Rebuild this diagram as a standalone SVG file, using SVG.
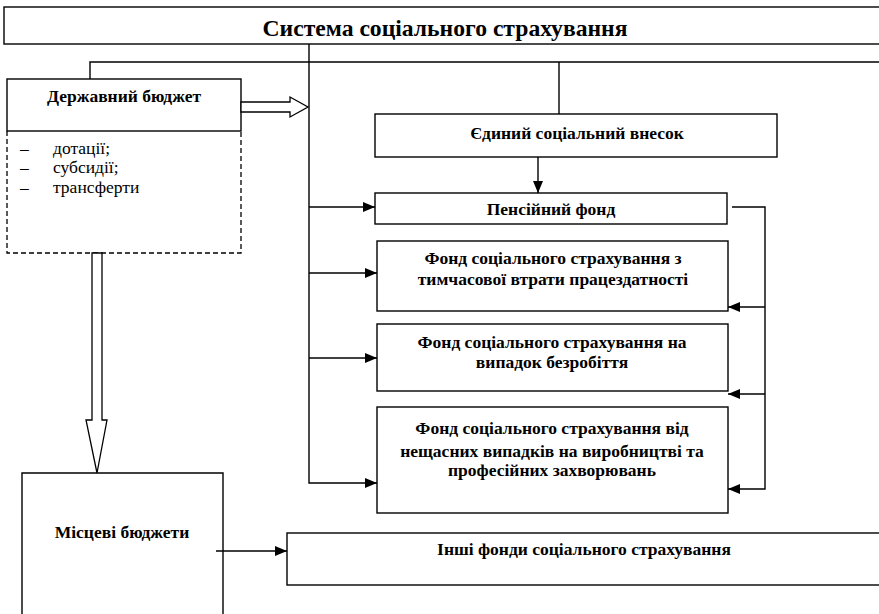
<svg xmlns="http://www.w3.org/2000/svg" width="879" height="614" viewBox="0 0 879 614">
<style>
.box{fill:#fff;stroke:#000;stroke-width:1.4}
.dash{fill:none;stroke:#000;stroke-width:1.3;stroke-dasharray:5,3}
.ln{fill:none;stroke:#000;stroke-width:1.4}
.hollow{fill:#fff;stroke:#000;stroke-width:1.3}
.t{font-family:"Liberation Serif","Times New Roman",serif;font-weight:bold;font-size:17.5px;text-anchor:middle;fill:#000}
.n{font-family:"Liberation Serif","Times New Roman",serif;font-size:17.5px;fill:#000}
.title{font-family:"Liberation Serif","Times New Roman",serif;font-weight:bold;font-size:23px;text-anchor:middle;fill:#000}
</style>
<defs>
<marker id="ah" markerUnits="userSpaceOnUse" markerWidth="13" markerHeight="10" refX="12" refY="5" orient="auto">
<path d="M0,0 L12,5 L0,10 Z" fill="#000"/>
</marker>
</defs>
<g id="title">
<rect class="box" x="4" y="7" width="880" height="37"/>
<text class="title" x="445" y="36" textLength="365" lengthAdjust="spacingAndGlyphs">Система соціального страхування</text>
</g>
<g id="derzh">
<rect class="box" x="7" y="79" width="234" height="52"/>
<text class="t" x="124" y="102">Державний бюджет</text>
<path class="dash" d="M7,131 V253 H241 V131"/>
<text class="n" x="20" y="154">–</text>
<text class="n" x="53" y="154">дотації;</text>
<text class="n" x="20" y="173">–</text>
<text class="n" x="53" y="173">субсидії;</text>
<text class="n" x="20" y="193">–</text>
<text class="n" x="53" y="193">трансферти</text>
</g>
<g id="esv">
<rect class="box" x="375" y="114" width="402" height="43"/>
<text class="t" x="577" y="139">Єдиний соціальний внесок</text>
</g>
<g id="pension">
<rect class="box" x="375" y="193" width="352" height="31"/>
<text class="t" x="551" y="215">Пенсійний фонд</text>
</g>
<g id="fund-temp">
<rect class="box" x="377" y="241" width="351" height="70"/>
<text class="t" x="553" y="264">Фонд соціального страхування з</text>
<text class="t" x="553" y="285">тимчасової втрати працездатності</text>
</g>
<g id="fund-unemp">
<rect class="box" x="377" y="324" width="351" height="67"/>
<text class="t" x="552" y="348">Фонд соціального страхування на</text>
<text class="t" x="552" y="368">випадок безробіття</text>
</g>
<g id="fund-accident">
<rect class="box" x="377" y="407" width="351" height="106"/>
<text class="t" x="552" y="434">Фонд соціального страхування від</text>
<text class="t" x="552" y="457">нещасних випадків на виробництві та</text>
<text class="t" x="552" y="476">професійних захворювань</text>
</g>
<g id="local">
<path class="box" d="M22,620 V473 H223 V620"/>
<text class="t" x="122" y="538">Місцеві бюджети</text>
</g>
<g id="other">
<rect class="box" x="287" y="533" width="600" height="52"/>
<text class="t" x="584" y="555">Інші фонди соціального страхування</text>
</g>
<g id="connectors">
<path class="ln" d="M309,44 V483 H377" marker-end="url(#ah)"/>
<path class="ln" d="M90,79 V62 H879"/>
<path class="ln" d="M559,62 V114"/>
<path class="ln" d="M538,157 V193" marker-end="url(#ah)"/>
<path class="ln" d="M309,207 H375" marker-end="url(#ah)"/>
<path class="ln" d="M309,273 H377" marker-end="url(#ah)"/>
<path class="ln" d="M309,358 H377" marker-end="url(#ah)"/>
<path class="ln" d="M732,207 H765 V489 H728" marker-end="url(#ah)"/>
<path class="ln" d="M765,307 H728" marker-end="url(#ah)"/>
<path class="ln" d="M765,394 H728" marker-end="url(#ah)"/>
<path class="ln" d="M216,551 H287" marker-end="url(#ah)"/>
<polygon class="hollow" points="241,102 290,102 290,97 308,107 290,117 290,112 241,112"/>
<polygon class="hollow" points="92,253 102,253 102,420 107,420 97,473 86,420 92,420"/>
</g>
</svg>
